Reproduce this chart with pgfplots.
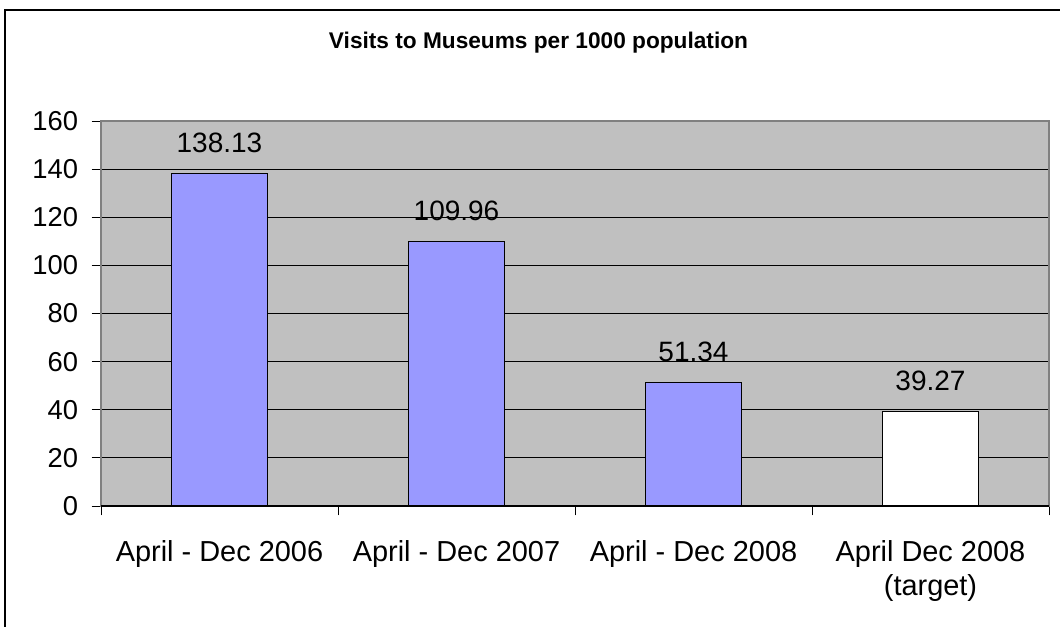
\documentclass[border=0pt]{standalone}
\usepackage{pgfplots}
\pgfplotsset{compat=1.18}
\usepackage{fontspec}
\setmainfont{Liberation Sans}
\definecolor{plotbg}{HTML}{C0C0C0}
\definecolor{barblue}{HTML}{9999FF}
\definecolor{axisgray}{HTML}{808080}
\begin{document}
\begin{tikzpicture}[x=0.75pt,y=0.75pt]
\path[use as bounding box] (0,0) rectangle (1060,627);
\draw[black, line width=0.9pt] (5,0) -- (5,617) -- (1060,617);
\node[font=\fontsize{17}{20}\selectfont\bfseries] at (538.5,584) {Visits to Museums per 1000 population};
\begin{axis}[
  at={(75.75pt,90.75pt)}, anchor=south west,
  scale only axis, width=711pt, height=288.75pt,
  xmin=-0.5, xmax=3.5, ymin=0, ymax=160,
  ytick={0,20,...,160},
  xtick pos=bottom, ytick pos=left,
  ymajorgrids, grid style={black, line width=0.6pt},
  axis background/.style={fill=plotbg},
  axis line style={axisgray, line width=0.8pt},
  tick align=outside, major tick length=7pt,
  tick style={black, line width=0.6pt},
  xtick={-0.5,0.5,1.5,2.5,3.5}, xticklabels={},
  extra x ticks={0,1,2,3},
  extra x tick labels={April - Dec 2006, April - Dec 2007, April - Dec 2008, {April Dec 2008\\(target)}},
  extra x tick style={major tick length=0pt, grid=none},
  xticklabel style={font=\fontsize{21.7}{26}\selectfont, align=center, inner sep=0pt, yshift=-25.5pt},
  yticklabel style={font=\fontsize{20.5}{24}\selectfont, inner sep=0pt, xshift=-10pt},
  /pgf/number format/assume math mode=true,
  ybar, bar width=72pt,
  point meta=explicit symbolic,
  nodes near coords,
  every node near coord/.append style={font=\fontsize{21}{24}\selectfont, anchor=south, inner sep=0pt, yshift=15pt},
  clip=false,
]
\addplot[bar shift=0pt, fill=barblue, draw=black, line width=0.9pt] coordinates {(0,138.13) [138.13] (1,109.96) [109.96] (2,51.34) [51.34]};
\addplot[bar shift=0pt, fill=white, draw=black, line width=0.9pt] coordinates {(3,39.27) [39.27]};
\draw[black, line width=0.8pt] (rel axis cs:0,0) -- (rel axis cs:1,0);
\end{axis}
\end{tikzpicture}
\end{document}
